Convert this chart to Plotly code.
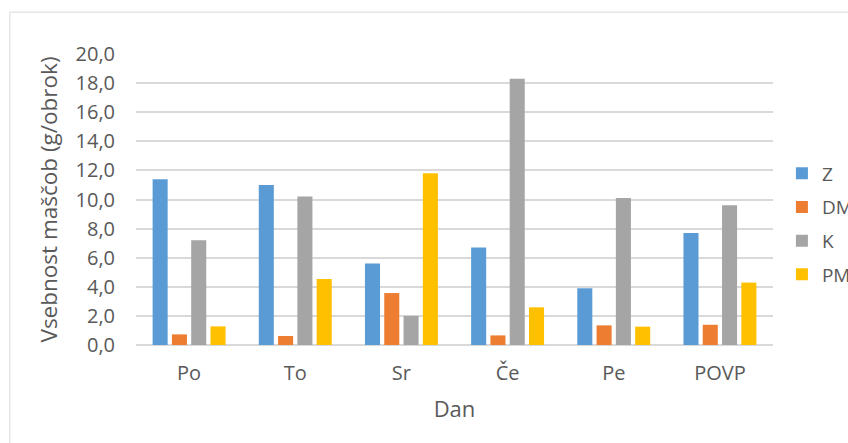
import plotly.graph_objects as go

# Days of the week and the weekly average
days = ["Po", "To", "Sr", "Če", "Pe", "POVP"]

# Fat content per meal (g/obrok)
z_vals = [11.4, 11.0, 5.6, 6.7, 3.9, 7.7]
dm_vals = [0.73, 0.62, 3.57, 0.66, 1.35, 1.39]
k_vals = [7.2, 10.2, 2.0, 18.3, 10.1, 9.6]
pm_vals = [1.28, 4.54, 11.8, 2.59, 1.26, 4.29]

series_names = ["Z", "DM", "K", "PM"]
series_vals = [z_vals, dm_vals, k_vals, pm_vals]
series_colors = ["#5B9BD5", "#ED7D31", "#A5A5A5", "#FFC000"]

y_ticks = [0, 2, 4, 6, 8, 10, 12, 14, 16, 18, 20]

FONT = "Open Sans"
TEXT_COLOR = "#595959"
GRID_COLOR = "#D9D9D9"

fig = go.Figure()
for name, vals, color in zip(series_names, series_vals, series_colors):
    fig.add_trace(go.Bar(
        x=days,
        y=vals,
        name=name,
        legendgroup=name,
        marker=dict(color=color, line=dict(width=0)),
    ))

# chart-area frame
fig.add_shape(
    type="rect", xref="paper", yref="paper",
    x0=-0.198, x1=2.0, y0=1.144, y1=-0.5,
    line=dict(color=GRID_COLOR, width=1),
    fillcolor="rgba(0,0,0,0)", layer="below",
)

fig.update_layout(
    width=848,
    height=443,
    margin=dict(l=136, r=75, t=54, b=98, autoexpand=False),
    paper_bgcolor="white",
    plot_bgcolor="white",
    separators=", ",
    barmode="group",
    bargap=0.273,
    bargroupgap=0.22,
    font=dict(family=FONT, color=TEXT_COLOR, size=20),
    legend=dict(
        x=1.014, xanchor="left",
        y=0.655, yanchor="top",
        font=dict(family=FONT, size=19, color=TEXT_COLOR),
        tracegroupgap=6,
        traceorder="grouped",
        bgcolor="rgba(0,0,0,0)",
    ),
    showlegend=True,
)

fig.update_xaxes(
    title=dict(text="Dan", font=dict(size=22, color=TEXT_COLOR), standoff=16),
    showgrid=False,
    showline=False,
    ticks="",
    ticklabelstandoff=14,
    tickfont=dict(size=20, color=TEXT_COLOR),
)

fig.update_yaxes(
    title=dict(text="Vsebnost maščob (g/obrok)", font=dict(size=22.5, color=TEXT_COLOR), standoff=11),
    range=[0, 20],
    tickvals=y_ticks,
    tickformat=".1f",
    showgrid=True,
    gridcolor=GRID_COLOR,
    gridwidth=1.5,
    zeroline=True,
    zerolinecolor=GRID_COLOR,
    zerolinewidth=2,
    showline=False,
    ticks="",
    ticklabelstandoff=20,
    tickfont=dict(size=20, color=TEXT_COLOR),
)

fig.write_html("out.html")
